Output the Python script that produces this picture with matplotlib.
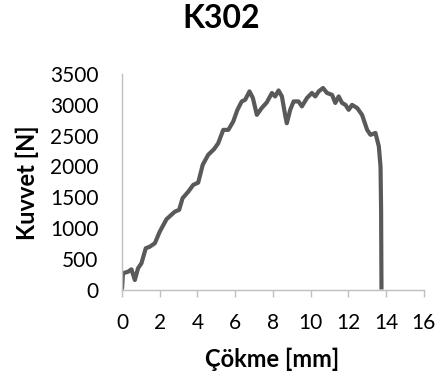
import matplotlib
matplotlib.use("Agg")
import matplotlib.pyplot as plt

# Data
deflection_mm = [0, 0.05, 0.32, 0.5, 0.68, 0.85, 1.03, 1.26, 1.47, 1.74, 2.0, 2.36, 2.8, 3.03,
                 3.21, 3.51, 3.78, 4.04, 4.28, 4.57, 4.88, 5.1, 5.37, 5.64, 5.9, 6.12, 6.35,
                 6.53, 6.76, 6.94, 7.15, 7.41, 7.68, 7.95, 8.12, 8.3, 8.48, 8.65, 8.74, 8.92,
                 9.1, 9.36, 9.54, 9.81, 10.07, 10.25, 10.43, 10.66, 10.87, 11.14, 11.31, 11.49,
                 11.67, 11.85, 12.02, 12.2, 12.47, 12.73, 13.0, 13.18, 13.44, 13.62, 13.71,
                 13.74, 13.76]
force_N = [0, 264, 289, 328, 154, 345, 426, 670, 695, 751, 939, 1142, 1264, 1294,
           1482, 1588, 1700, 1736, 2025, 2188, 2279, 2375, 2593, 2593, 2730, 2918, 3055,
           3081, 3218, 3111, 2837, 2948, 3040, 3192, 3136, 3233, 3136, 2837, 2700, 2918,
           3055, 3055, 2974, 3111, 3192, 3136, 3218, 3273, 3192, 3162, 3030, 3136,
           3030, 2999, 2918, 2999, 2948, 2837, 2593, 2512, 2543, 2324, 1994,
           1294, 0]
x_ticks = [0, 2, 4, 6, 8, 10, 12, 14, 16]
y_ticks = [0, 500, 1000, 1500, 2000, 2500, 3000, 3500]
title = "K302"
x_label = "Çökme [mm]"
y_label = "Kuvvet [N]"

plt.rcParams['font.family'] = ['Lato', 'DejaVu Sans']

fig = plt.figure(figsize=(4.37, 3.79), dpi=100)
ax = fig.add_axes([0.2792, 0.2361, 0.6904, 0.5686])

ax.plot(deflection_mm, force_N, color='#595959', linewidth=3.0,
        solid_joinstyle='round', solid_capstyle='butt')

ax.set_xlim(0, 16)
ax.set_ylim(0, 3500)
ax.set_xticks(x_ticks)
ax.set_yticks(y_ticks)

for s in ['top', 'right']:
    ax.spines[s].set_visible(False)
for s in ['left', 'bottom']:
    ax.spines[s].set_color('#BFBFBF')
    ax.spines[s].set_linewidth(1.0)

ax.tick_params(axis='x', direction='out', length=5, width=1, color='#BFBFBF',
               labelsize=15, pad=12, labelcolor='black')
ax.tick_params(axis='y', length=0, labelsize=15, pad=17, labelcolor='black')

fig.text(221.5 / 437, 1 - 19 / 379, title, fontsize=23, fontweight='bold',
         ha='center', va='center')
fig.text(272 / 437, 1 - 359 / 379, x_label, fontsize=17, fontweight='bold',
         ha='center', va='center')
fig.text(27 / 437, 1 - 182.5 / 379, y_label, fontsize=17, fontweight='bold',
         ha='center', va='center', rotation=90)

fig.savefig("out.png", dpi=100)
